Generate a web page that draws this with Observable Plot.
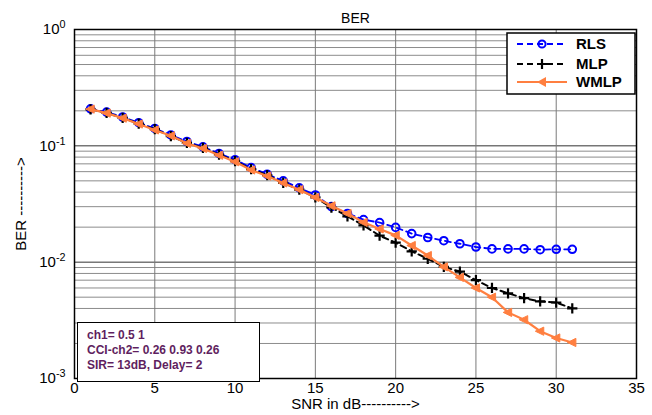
<!DOCTYPE html>
<html><head><meta charset="utf-8">
<script src="https://cdn.jsdelivr.net/npm/d3@7"></script>
<script src="https://cdn.jsdelivr.net/npm/@observablehq/plot@0.6"></script>
<style>
body{margin:0;background:#fff;font-family:"Liberation Sans",Arial,sans-serif;}
#wrap{position:relative;width:652px;height:415px;overflow:hidden;}
#legend{position:absolute;left:506px;top:32px;}
#note{position:absolute;left:77px;top:322px;width:172px;height:53px;border:1.5px solid #000;background:#fff;
  color:#5f1f60;font-weight:bold;font-size:12px;line-height:15px;padding:5px 0 0 9px;box-sizing:content-box;}
</style>
</head><body>
<div id="wrap"></div>
<script>
// ---- data ----
const snr = [1,2,3,4,5,6,7,8,9,10,11,12,13,14,15,16,17,18,19,20,21,22,23,24,25,26,27,28,29,30,31];
const rls = [0.208,0.195,0.177,0.158,0.141,0.124,0.109,0.098,0.086,0.076,0.065,0.057,0.050,0.0435,0.0378,
             0.0300,0.0262,0.0232,0.0219,0.0199,0.0176,0.0163,0.0153,0.0144,0.0135,0.0130,0.0130,0.0130,0.0128,0.0129,0.0129];
const mlp = [0.206,0.192,0.174,0.155,0.139,0.121,0.106,0.096,0.084,0.074,0.063,0.056,0.048,0.042,0.036,
             0.0295,0.0248,0.0207,0.0169,0.0147,0.0124,0.0107,0.0091,0.0083,0.0070,0.0060,0.0054,0.0049,0.0046,0.0045,0.0040];
const wmlp = [0.207,0.191,0.173,0.154,0.137,0.122,0.105,0.095,0.083,0.073,0.062,0.055,0.048,0.042,0.036,
              0.0305,0.0262,0.0220,0.0193,0.0170,0.0139,0.0114,0.0091,0.0074,0.0060,0.0050,0.0037,0.0032,0.00255,0.00223,0.00204];
const seriesNames = ["RLS","MLP","WMLP"];
const xTicks = [0,5,10,15,20,25,30,35];
const yTicks = [1,0.1,0.01,0.001];
const minorMult = [2,3,4,5,6,7,8,9];
const titleText = "BER";
const xLabel = "SNR in dB---------->";
const yLabel = "BER ---------->";
const noteLines = ["ch1= 0.5 1","CCI-ch2= 0.26 0.93 0.26","SIR= 13dB, Delay= 2"];

const rows = s => snr.map((x,i)=>({x, y: s[i]}));
const dRLS = rows(rls), dMLP = rows(mlp), dWMLP = rows(wmlp);
const minorY = yTicks.slice(1).flatMap(d => minorMult.map(m => d*m));

const BLUE = "#0000ff", ORANGE = "#ff7f40", BLACK = "#000";
const leftTri = {draw(ctx, size){ const r = Math.sqrt(size/Math.PI)*1.15;
  ctx.moveTo(-r,0); ctx.lineTo(r*0.75,-r*0.85); ctx.lineTo(r*0.75,r*0.85); ctx.closePath(); }};

const chart = Plot.plot({
  width: 652, height: 415,
  marginLeft: 74, marginRight: 16, marginTop: 29, marginBottom: 37,
  style: {fontFamily: "'Liberation Sans', Arial, sans-serif", fontSize: "15px", background: "#fff", color: "#000", overflow: "visible"},
  x: {domain: [0,35], ticks: xTicks, tickSize: 0, tickPadding: 4, label: null},
  y: {type: "log", domain: [0.001, 1], ticks: yTicks, tickSize: 0, tickPadding: 9, label: null,
      tickFormat: d => "10|" + Math.round(Math.log10(d))},
  marks: [
    Plot.ruleY(minorY, {stroke: "#8c8c8c", strokeWidth: 1}),
    Plot.ruleY(yTicks, {stroke: "#333", strokeWidth: 1}),
    Plot.ruleX(xTicks, {stroke: "#7a7a7a", strokeWidth: 1}),
    Plot.line(dRLS, {x:"x", y:"y", stroke: BLUE, strokeWidth: 1.8, strokeDasharray: "6,4"}),
    Plot.dot(dRLS, {x:"x", y:"y", stroke: BLUE, strokeWidth: 2, r: 3.8, fill: "none"}),
    Plot.line(dMLP, {x:"x", y:"y", stroke: BLACK, strokeWidth: 2, strokeDasharray: "6,4"}),
    Plot.dot(dMLP, {x:"x", y:"y", stroke: BLACK, strokeWidth: 2.2, r: 3.4, symbol: "plus"}),
    Plot.line(dWMLP, {x:"x", y:"y", stroke: ORANGE, strokeWidth: 2.2}),
    Plot.dot(dWMLP, {x:"x", y:"y", fill: ORANGE, stroke: ORANGE, strokeWidth: 1, r: 4.2, symbol: leftTri}),
    Plot.frame({stroke: "#000", strokeWidth: 1.5}),
    Plot.text([titleText], {text: d=>d, frameAnchor: "top", dy: -16, fontSize: 14}),
    Plot.text([xLabel], {text: d=>d, frameAnchor: "bottom", textAnchor: "middle", dy: 30, fontSize: 15}),
    Plot.text([yLabel], {text: d=>d, frameAnchor: "left", textAnchor: "middle", dx: -53, rotate: -90, fontSize: 15})
  ]
});

// superscript exponents on the log axis labels
d3.select(chart).selectAll("text").each(function(){
  const t = this.textContent;
  if (this.childElementCount === 0 && /^10\|/.test(t)) {
    const e = t.split("|")[1];
    const sel = d3.select(this); sel.text(null);
    sel.append("tspan").text("10");
    sel.append("tspan").attr("dy","-0.55em").attr("font-size","0.72em").text(e);
  }
});

const wrap = document.getElementById("wrap");
wrap.appendChild(chart);

// legend
const lg = d3.select(wrap).append("svg").attr("id","legend").attr("width",131).attr("height",64);
lg.append("rect").attr("x",1).attr("y",1).attr("width",128).attr("height",61).attr("fill","#fff").attr("stroke","#000").attr("stroke-width",1.5);
const legRows = [
  {name: seriesNames[0], color: BLUE, dash: "6,4"},
  {name: seriesNames[1], color: BLACK, dash: "6,4"},
  {name: seriesNames[2], color: ORANGE, dash: null}
];
const rowY = [12, 32, 50];
legRows.forEach((r,i)=>{
  const y = rowY[i];
  lg.append("line").attr("x1",11).attr("x2",61).attr("y1",y).attr("y2",y).attr("stroke",r.color)
    .attr("stroke-width",2).attr("stroke-dasharray",r.dash);
  if (i===0) lg.append("circle").attr("cx",36).attr("cy",y).attr("r",3.6).attr("fill","none").attr("stroke",BLUE).attr("stroke-width",2);
  if (i===1) lg.append("path").attr("d",`M31,${y}H41M36,${y-5}V${y+5}`).attr("stroke","#000").attr("stroke-width",2.2);
  if (i===2) lg.append("path").attr("d",`M31,${y}L40,${y-5}L40,${y+5}Z`).attr("fill",ORANGE);
  lg.append("text").attr("x",70).attr("y",y).attr("dy","0.36em").attr("font-weight","bold").attr("font-size",15)
    .attr("font-family","'Liberation Sans', Arial, sans-serif").text(r.name);
});

// annotation box
const note = d3.select(wrap).append("div").attr("id","note");
noteLines.forEach(l => note.append("div").text(l));
</script>
</body></html>
